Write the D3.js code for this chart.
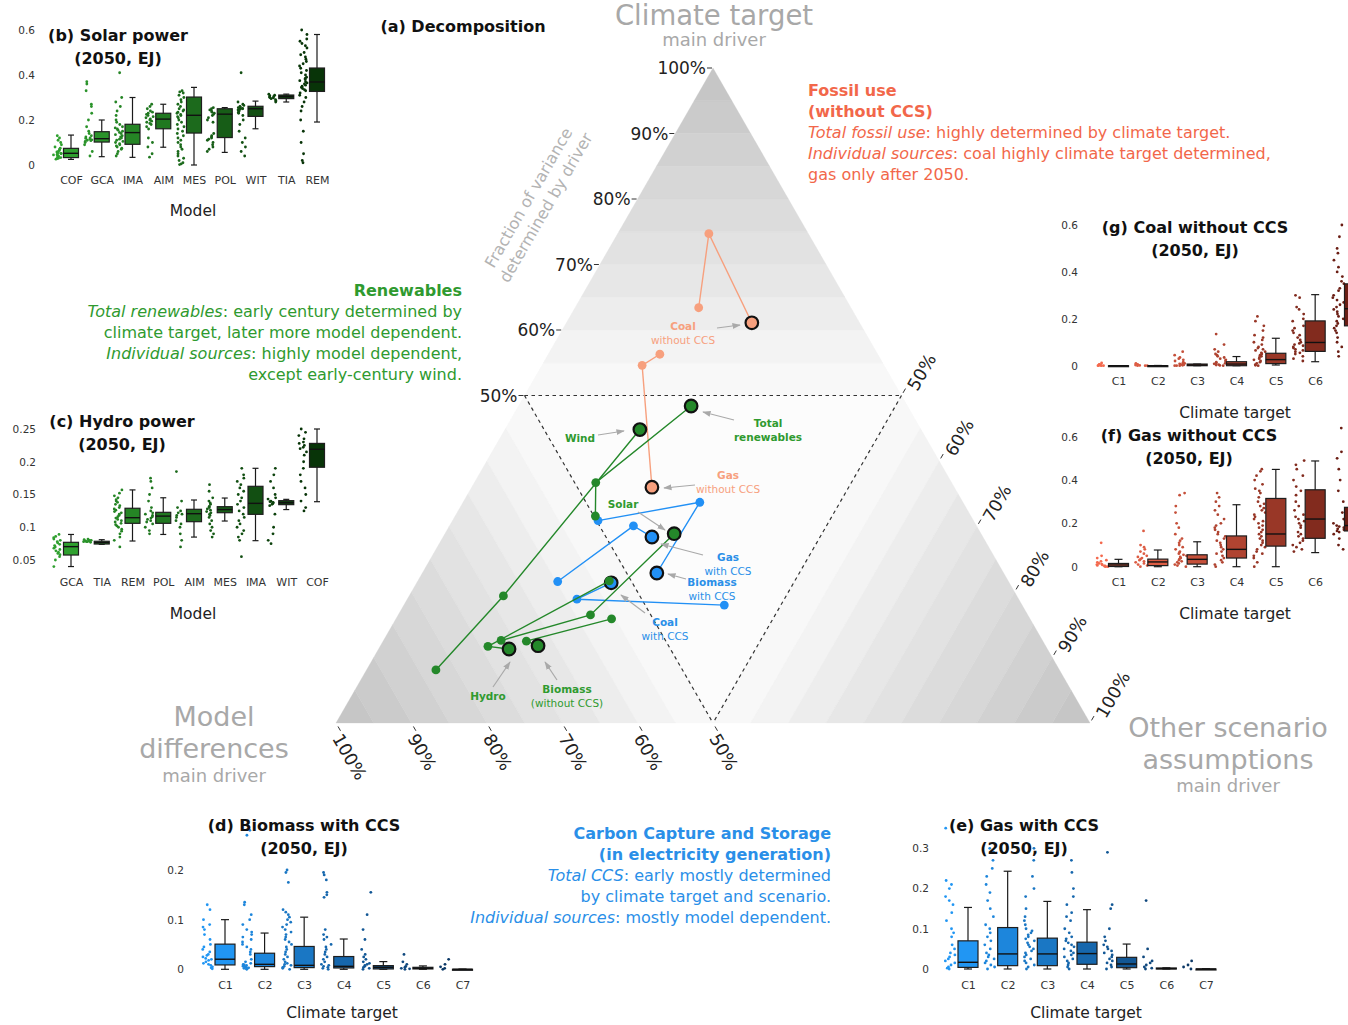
<!DOCTYPE html>
<html>
<head>
<meta charset="utf-8">
<script src="https://cdn.jsdelivr.net/npm/d3@7"></script>
<style>
  body { margin: 0; background: #fff; }
  svg { display: block; font-family: "DejaVu Sans", Verdana, sans-serif; }
</style>
</head>
<body>
<svg id="fig" width="1348" height="1025"></svg>
<script>
// ---------- Ternary decomposition: [climate target, model differences, other assumptions] ----------
const windPath        = [[0.081, 0.827, 0.092], [0.194, 0.681, 0.125], [0.448, 0.373, 0.179]];
const totalRenewPath  = [[0.316, 0.498, 0.186], [0.367, 0.472, 0.161], [0.484, 0.287, 0.229]];
const solarPath       = [[0.126, 0.718, 0.156], [0.165, 0.580, 0.255], [0.289, 0.407, 0.304]];
const hydroPath       = [[0.217, 0.529, 0.254], [0.117, 0.740, 0.143], [0.113, 0.714, 0.173]];
const biomassPath     = [[0.159, 0.555, 0.286], [0.125, 0.685, 0.190], [0.118, 0.673, 0.209]];
const bioCCSPath      = [[0.309, 0.498, 0.193], [0.337, 0.349, 0.314], [0.229, 0.460, 0.311]];
const gasCCSPath      = [[0.216, 0.598, 0.186], [0.301, 0.455, 0.244], [0.284, 0.439, 0.277]];
const coalCCSPath     = [[0.180, 0.395, 0.425], [0.189, 0.586, 0.225], [0.214, 0.528, 0.258]];
const coalPath        = [[0.634, 0.202, 0.164], [0.747, 0.132, 0.121], [0.611, 0.143, 0.246]];
const gasPath         = [[0.563, 0.289, 0.148], [0.546, 0.321, 0.133], [0.360, 0.401, 0.239]];
const ternaryTicks    = [0.5, 0.6, 0.7, 0.8, 0.9, 1.0];

// ---------- Box panels: [lower whisker, q1, median, q3, upper whisker] ----------
const solarModels = ["COF", "GCA", "IMA", "AIM", "MES", "POL", "WIT", "TIA", "REM"];
const solarStats = [
  [0.025, 0.033, 0.052, 0.074, 0.133], [0.037, 0.102, 0.117, 0.148, 0.200],
  [0.034, 0.092, 0.144, 0.181, 0.300], [0.079, 0.161, 0.204, 0.230, 0.270],
  [0.000, 0.142, 0.221, 0.302, 0.345], [0.056, 0.122, 0.226, 0.250, 0.255],
  [0.161, 0.216, 0.250, 0.261, 0.284], [0.280, 0.295, 0.304, 0.311, 0.315],
  [0.191, 0.327, 0.369, 0.431, 0.580]
];
const solarPoints = [
  [0.13,0.12,0.11,0.1,0.09,0.08,0.075,0.07,0.065,0.06,0.058,0.055,0.052,0.05,0.048,0.045,0.042,0.04,0.038,0.035,0.033,0.03,0.028,0.026],
  [0.37,0.36,0.33,0.27,0.26,0.23,0.2,0.17,0.15,0.14,0.13,0.125,0.12,0.118,0.115,0.112,0.11,0.108,0.105,0.1,0.09,0.06,0.04],
  [0.41,0.3,0.28,0.26,0.24,0.22,0.2,0.19,0.18,0.17,0.165,0.16,0.155,0.15,0.145,0.14,0.135,0.13,0.125,0.12,0.115,0.11,0.105,0.1,0.095,0.09,0.085,0.08,0.075,0.07,0.06,0.05,0.04],
  [0.27,0.26,0.25,0.24,0.235,0.23,0.225,0.22,0.215,0.21,0.205,0.2,0.195,0.19,0.185,0.18,0.17,0.16,0.12,0.1,0.08,0.05,0.035],
  [0.33,0.325,0.32,0.31,0.3,0.29,0.28,0.27,0.26,0.25,0.245,0.24,0.235,0.23,0.225,0.22,0.215,0.21,0.2,0.19,0.18,0.17,0.16,0.15,0.14,0.13,0.12,0.11,0.1,0.09,0.08,0.07,0.06,0.05,0.04,0.03,0.02,0.01,0.005,0.002],
  [0.255,0.25,0.245,0.24,0.235,0.23,0.225,0.22,0.21,0.2,0.19,0.14,0.13,0.125,0.12,0.115,0.11,0.1,0.09,0.08,0.07,0.06],
  [0.41,0.28,0.27,0.265,0.26,0.258,0.255,0.252,0.25,0.248,0.245,0.24,0.235,0.23,0.22,0.2,0.18,0.15,0.12,0.1,0.08,0.06,0.04],
  [0.315,0.31,0.308,0.305,0.302,0.3,0.298,0.295,0.29,0.285,0.28],
  [0.6,0.58,0.56,0.55,0.54,0.53,0.52,0.5,0.49,0.48,0.47,0.46,0.45,0.44,0.43,0.42,0.41,0.4,0.39,0.385,0.38,0.375,0.37,0.365,0.36,0.355,0.35,0.345,0.34,0.335,0.33,0.32,0.31,0.3,0.28,0.26,0.24,0.2,0.15,0.1,0.05,0.02,0.01]
];

const hydroModels = ["GCA", "TIA", "REM", "POL", "AIM", "MES", "IMA", "WIT", "COF"];
const hydroStats = [
  [0.040, 0.0576, 0.0704, 0.0770, 0.089], [0.0739, 0.0744, 0.0765, 0.0786, 0.081],
  [0.079, 0.106, 0.1146, 0.129, 0.157], [0.089, 0.106, 0.117, 0.1228, 0.145],
  [0.085, 0.1085, 0.1207, 0.1274, 0.1416], [0.1095, 0.1222, 0.127, 0.1314, 0.1446],
  [0.0795, 0.1197, 0.1365, 0.1625, 0.190], [0.127, 0.1345, 0.1375, 0.1406, 0.1426],
  [0.139, 0.1916, 0.219, 0.228, 0.250]
];
const hydroPoints = [
  [0.089,0.086,0.084,0.082,0.08,0.078,0.076,0.074,0.072,0.07,0.068,0.066,0.064,0.062,0.06,0.058,0.055,0.05,0.04],
  [0.082,0.081,0.08,0.08,0.079,0.079,0.078,0.078,0.078,0.077],
  [0.157,0.152,0.148,0.145,0.142,0.14,0.138,0.135,0.133,0.13,0.128,0.126,0.124,0.122,0.12,0.118,0.116,0.114,0.112,0.11,0.108,0.106,0.104,0.102,0.1,0.097,0.094,0.09,0.085,0.08,0.07],
  [0.175,0.17,0.16,0.15,0.14,0.13,0.125,0.122,0.12,0.118,0.116,0.114,0.112,0.11,0.108,0.105,0.1,0.095,0.09],
  [0.185,0.14,0.13,0.125,0.122,0.12,0.118,0.115,0.11,0.105,0.1,0.09,0.08,0.07],
  [0.165,0.155,0.145,0.14,0.137,0.135,0.132,0.13,0.128,0.126,0.124,0.122,0.12,0.118,0.115,0.11,0.105,0.1,0.095,0.09,0.085],
  [0.19,0.18,0.175,0.17,0.165,0.16,0.155,0.15,0.145,0.14,0.135,0.13,0.125,0.12,0.115,0.11,0.105,0.1,0.095,0.09,0.085,0.08,0.055],
  [0.19,0.18,0.17,0.16,0.15,0.145,0.143,0.14,0.139,0.138,0.137,0.136,0.135,0.133,0.12,0.1,0.09,0.08,0.075],
  [0.25,0.245,0.24,0.235,0.23,0.228,0.225,0.222,0.22,0.215,0.21,0.2,0.19,0.18,0.17,0.16,0.15,0.14,0.13,0.125]
];

const climateCats = ["C1", "C2", "C3", "C4", "C5", "C6", "C7"];

const coalStats = [
  [0, 0, 0, 0, 0], [0, 0, 0, 0, 0.001], [0, 0, 0.003, 0.007, 0.007], [0, 0, 0.007, 0.017, 0.039],
  [0.003, 0.009, 0.026, 0.053, 0.117], [0.017, 0.061, 0.099, 0.191, 0.303], [0.04, 0.17, 0.243, 0.349, 0.6]
];
const coalPoints = [
  [0.012,0.006,0.004,0.002,0.001,0,0,0],
  [0.01,0.006,0.003,0.001,0,0,0],
  [0.06,0.045,0.035,0.03,0.025,0.02,0.015,0.012,0.01,0.008,0.006,0.004,0.002,0,0,0],
  [0.135,0.09,0.07,0.06,0.05,0.045,0.04,0.035,0.03,0.025,0.02,0.015,0.012,0.01,0.008,0.005,0.003,0.001,0],
  [0.21,0.19,0.17,0.15,0.13,0.12,0.11,0.1,0.09,0.08,0.075,0.07,0.065,0.06,0.055,0.05,0.045,0.04,0.035,0.03,0.025,0.02,0.015,0.01,0.005,0.002,0],
  [0.3,0.29,0.25,0.24,0.22,0.2,0.19,0.17,0.16,0.15,0.14,0.13,0.12,0.11,0.1,0.095,0.09,0.085,0.08,0.075,0.07,0.065,0.06,0.055,0.05,0.04,0.03,0.02],
  [0.6,0.55,0.5,0.48,0.45,0.42,0.4,0.38,0.36,0.35,0.33,0.32,0.3,0.29,0.28,0.27,0.26,0.25,0.24,0.23,0.22,0.21,0.2,0.19,0.18,0.17,0.16,0.15,0.14,0.12,0.1,0.08,0.06,0.04]
];

const gasStats = [
  [0, 0.001, 0.008, 0.015, 0.034], [0, 0.005, 0.022, 0.035, 0.077], [0, 0.012, 0.034, 0.055, 0.115],
  [0, 0.04, 0.08, 0.142, 0.286], [0, 0.095, 0.151, 0.315, 0.449], [0.065, 0.131, 0.22, 0.355, 0.488],
  [0.08, 0.165, 0.19, 0.274, 0.5]
];
const gasPoints = [
  [0.11,0.05,0.04,0.03,0.025,0.02,0.015,0.012,0.01,0.008,0.006,0.004,0.002,0,0],
  [0.165,0.1,0.09,0.08,0.07,0.06,0.05,0.045,0.04,0.035,0.03,0.025,0.02,0.015,0.01,0.005,0],
  [0.34,0.33,0.28,0.25,0.2,0.18,0.15,0.13,0.12,0.11,0.1,0.09,0.08,0.07,0.065,0.06,0.055,0.05,0.045,0.04,0.035,0.03,0.025,0.02,0.015,0.01,0.005,0],
  [0.34,0.32,0.3,0.28,0.26,0.24,0.22,0.2,0.19,0.18,0.17,0.16,0.15,0.14,0.13,0.12,0.11,0.1,0.09,0.08,0.07,0.06,0.05,0.04,0.03,0.02,0.01,0],
  [0.45,0.44,0.42,0.4,0.38,0.36,0.35,0.34,0.32,0.3,0.29,0.28,0.27,0.26,0.25,0.24,0.23,0.22,0.21,0.2,0.19,0.18,0.17,0.16,0.15,0.14,0.13,0.12,0.11,0.1,0.09,0.08,0.07,0.06,0.05,0.04,0.02,0],
  [0.49,0.47,0.45,0.42,0.4,0.37,0.35,0.33,0.3,0.28,0.26,0.24,0.23,0.22,0.21,0.2,0.19,0.18,0.16,0.15,0.14,0.13,0.12,0.11,0.1,0.09,0.08,0.07],
  [0.64,0.53,0.5,0.45,0.4,0.35,0.3,0.25,0.22,0.2,0.19,0.185,0.18,0.175,0.17,0.165,0.16,0.15,0.13,0.1,0.08]
];

const bioCCSStats = [
  [0, 0.0088, 0.0203, 0.0507, 0.1], [0, 0.0054, 0.01, 0.0324, 0.073], [0, 0.0034, 0.008, 0.046, 0.105],
  [0, 0.0027, 0.006, 0.0257, 0.061], [0, 0.0007, 0.004, 0.0074, 0.0155], [0, 0.0007, 0.002, 0.004, 0.0068],
  [0, 0, 0, 0, 0]
];
const bioCCSPoints = [
  [0.13,0.12,0.1,0.09,0.085,0.08,0.07,0.06,0.05,0.045,0.04,0.035,0.03,0.028,0.025,0.022,0.02,0.018,0.015,0.012,0.01,0.008,0.005,0.003,0.001],
  [0.28,0.27,0.135,0.13,0.11,0.1,0.09,0.08,0.075,0.07,0.065,0.06,0.055,0.05,0.045,0.04,0.035,0.03,0.02,0.015,0.012,0.01,0.009,0.008,0.007,0.006,0.005,0.004,0.003,0.002,0.001,0],
  [0.2,0.195,0.175,0.12,0.115,0.11,0.105,0.1,0.095,0.09,0.085,0.08,0.075,0.07,0.065,0.06,0.055,0.05,0.045,0.04,0.035,0.03,0.025,0.02,0.015,0.012,0.01,0.008,0.006,0.004,0.002,0],
  [0.195,0.19,0.18,0.155,0.15,0.145,0.08,0.07,0.065,0.06,0.05,0.045,0.04,0.035,0.03,0.025,0.02,0.015,0.01,0.008,0.006,0.004,0.002,0],
  [0.155,0.11,0.08,0.06,0.04,0.03,0.025,0.02,0.015,0.012,0.01,0.008,0.006,0.004,0.002,0],
  [0.03,0.015,0.01,0.006,0.004,0.002,0.001,0],
  [0.02,0.01,0.005,0.002,0]
];

const gasCCSStats = [
  [0, 0.004, 0.0167, 0.07, 0.153], [0, 0.0083, 0.0375, 0.103, 0.243], [0, 0.0083, 0.0375, 0.0767, 0.168],
  [0, 0.0117, 0.0383, 0.0667, 0.1475], [0, 0.0033, 0.0125, 0.029, 0.062], [0, 0, 0.001, 0.0025, 0.003],
  [0, 0, 0, 0, 0]
];
const gasCCSPoints = [
  [0.35,0.22,0.21,0.2,0.18,0.17,0.16,0.14,0.12,0.1,0.09,0.08,0.06,0.05,0.04,0.035,0.03,0.025,0.02,0.015,0.01,0.005,0.002,0],
  [0.3,0.29,0.27,0.25,0.23,0.21,0.19,0.17,0.15,0.13,0.11,0.1,0.09,0.08,0.07,0.06,0.05,0.04,0.035,0.03,0.025,0.02,0.015,0.01,0.005,0],
  [0.3,0.27,0.23,0.2,0.18,0.15,0.13,0.12,0.11,0.1,0.095,0.09,0.085,0.08,0.075,0.07,0.065,0.06,0.055,0.05,0.045,0.04,0.035,0.03,0.025,0.02,0.015,0.01,0.005,0],
  [0.27,0.24,0.2,0.18,0.16,0.14,0.13,0.12,0.1,0.09,0.08,0.075,0.07,0.065,0.06,0.055,0.05,0.045,0.04,0.035,0.03,0.025,0.02,0.015,0.01,0.005,0],
  [0.29,0.16,0.15,0.1,0.08,0.07,0.06,0.055,0.05,0.045,0.04,0.035,0.03,0.025,0.02,0.015,0.01,0.005,0],
  [0.17,0.05,0.03,0.02,0.015,0.01,0.005,0.002,0],
  [0.02,0.01,0.005,0]
];

// ---------- palette ----------
const GREEN = "#24882a", BLUE = "#2290f5", ORANGE = "#f7a07e";
const TXT_GREEN = "#2f9a2f", TXT_RED = "#f2674a", TXT_BLUE = "#2a8fe8";
const LABEL_GRAY = "#a8a8a8", ARROW_GRAY = "#a9a9a9";
const greens = d3.quantize(d3.interpolateRgb("#2fa02f", "#083408"), 9);
const reds = d3.quantize(d3.interpolateRgb("#f4694d", "#6b1e14"), 7);
const blues = d3.quantize(d3.interpolateRgb("#2196f3", "#0b3866"), 7);

const W = 1348;
const svg = d3.select("#fig");
const defs = svg.append("defs");
defs.append("marker").attr("id", "arrowhead").attr("viewBox", "0 0 10 10")
  .attr("refX", 9).attr("refY", 5).attr("markerWidth", 7).attr("markerHeight", 7)
  .attr("orient", "auto")
  .append("path").attr("d", "M0,1.5L10,5L0,8.5Z").attr("fill", ARROW_GRAY);

// ---------- ternary plot ----------
const tx = d3.scaleLinear().domain([0, 1]).range([336, 1090]);
const ty = d3.scaleLinear().domain([0, 1]).range([723, 68]);
function proj(p) {
  const s = p[0] + p[1] + p[2];
  const a = p[0] / s, c = p[2] / s;
  return [tx(c + a / 2), ty(a)];
}
const lineGen = d3.line();
const tern = svg.append("g");

tern.append("path")
  .attr("d", lineGen([[1, 0, 0], [0, 1, 0], [0, 0, 1]].map(proj)) + "Z")
  .attr("fill", "#fcfcfc");

// shaded bands: one component above one half, darker towards its vertex
const shade = d3.scaleLinear().domain([0.5, 1]).range(["#fbfbfb", "#c3c3c3"]);
const bandStarts = d3.range(10).map(i => 0.5 + i * 0.05);
[0, 1, 2].forEach(k => {
  bandStarts.forEach(t => {
    const t2 = t + 0.05;
    const at = (v, side) => { const p = [0, 0, 0]; p[k] = v; p[(k + (side ? 2 : 1)) % 3] = 1 - v; return p; };
    tern.append("path")
      .attr("d", lineGen([at(t, 0), at(t, 1), at(t2, 1), at(t2, 0)].map(proj)) + "Z")
      .attr("fill", shade(t + 0.025))
      .attr("stroke", shade(t + 0.025)).attr("stroke-width", 0.3);
  });
});

// dashed inner triangle (no driver above one half)
const mid = [[0.5, 0.5, 0], [0.5, 0, 0.5], [0, 0.5, 0.5]];
[[0, 1], [0, 2], [1, 2]].forEach(([i, j]) => {
  tern.append("path").attr("d", lineGen([mid[i], mid[j]].map(proj)))
    .attr("stroke", "#333").attr("stroke-width", 1.2).attr("stroke-dasharray", "3.5,3.5").attr("fill", "none");
});

// axis ticks and labels
const pct = d3.format(".0%");
const tickFont = 17;
ternaryTicks.forEach(t => {
  // climate target: left edge, horizontal ticks
  let [x, y] = proj([t, 1 - t, 0]);
  tern.append("line").attr("x1", x - 6).attr("x2", x - 1).attr("y1", y).attr("y2", y).attr("stroke", "#333");
  tern.append("text").attr("x", x - 7).attr("y", y + 6).attr("text-anchor", "end")
    .attr("font-size", tickFont).attr("fill", "#222").text(pct(t));

  // model differences: bottom edge, ticks parallel to right edge
  [x, y] = proj([0, t, 1 - t]);
  const dx = 0.5, dy = Math.sqrt(3) / 2;
  tern.append("line").attr("x1", x + dx * 4).attr("y1", y + dy * 4).attr("x2", x + dx * 9).attr("y2", y + dy * 9).attr("stroke", "#333");
  tern.append("text").attr("transform", `translate(${x + dx * 14 - 6},${y + dy * 14})rotate(60)`)
    .attr("font-size", 17.5).attr("fill", "#222").attr("dy", "0.35em").text(pct(t));

  // other scenario assumptions: right edge, ticks parallel to left edge
  [x, y] = proj([1 - t, 0, t]);
  tern.append("line").attr("x1", x + dx * 3).attr("y1", y - dy * 3).attr("x2", x + dx * 8).attr("y2", y - dy * 8).attr("stroke", "#333");
  tern.append("text").attr("transform", `translate(${x + dx * 11 + 5},${y - dy * 11 + 3})rotate(-60)`)
    .attr("font-size", 17.5).attr("fill", "#222").attr("dy", "0.35em").text(pct(t));
});

// series trajectories
const series = [
  { pts: bioCCSPath, color: BLUE }, { pts: gasCCSPath, color: BLUE }, { pts: coalCCSPath, color: BLUE },
  { pts: coalPath, color: ORANGE }, { pts: gasPath, color: ORANGE },
  { pts: windPath, color: GREEN }, { pts: totalRenewPath, color: GREEN }, { pts: solarPath, color: GREEN },
  { pts: hydroPath, color: GREEN }, { pts: biomassPath, color: GREEN }
];
const marks = tern.append("g");
series.forEach(s => {
  const xy = s.pts.map(proj);
  marks.append("path").attr("d", lineGen(xy)).attr("fill", "none").attr("stroke", s.color).attr("stroke-width", 1.4);
  xy.slice(0, -1).forEach(p => marks.append("circle").attr("cx", p[0]).attr("cy", p[1]).attr("r", 4.4).attr("fill", s.color));
  const last = xy[xy.length - 1];
  marks.append("circle").attr("cx", last[0]).attr("cy", last[1]).attr("r", 6.3)
    .attr("fill", s.color).attr("stroke", "#111").attr("stroke-width", 2.2);
});

// series annotations
const annotations = [
  { l1: "Wind", l2: null, c: TXT_GREEN, x: 580, y: 438, a: [598, 435, 624, 431] },
  { l1: "Total", l2: "renewables", c: TXT_GREEN, x: 768, y: 423, a: [734, 420, 703, 412], bold2: true },
  { l1: "Gas", l2: "without CCS", c: ORANGE, x: 728, y: 475, a: [695, 485, 664, 488] },
  { l1: "Solar", l2: null, c: TXT_GREEN, x: 623, y: 504, a: [638, 512, 665, 530] },
  { l1: "Gas", l2: "with CCS", c: TXT_BLUE, x: 728, y: 557, a: [703, 555, 661, 544] },
  { l1: "Biomass", l2: "with CCS", c: TXT_BLUE, x: 712, y: 582, a: [686, 579, 668, 574] },
  { l1: "Coal", l2: "with CCS", c: TXT_BLUE, x: 665, y: 622, a: [645, 613, 621, 595] },
  { l1: "Hydro", l2: null, c: TXT_GREEN, x: 488, y: 696, a: [493, 687, 510, 662] },
  { l1: "Biomass", l2: "(without CCS)", c: TXT_GREEN, x: 567, y: 689, a: [557, 680, 545, 662] },
  { l1: "Coal", l2: "without CCS", c: ORANGE, x: 683, y: 326, a: [717, 328, 740, 325] }
];
annotations.forEach(d => {
  tern.append("line").attr("x1", d.a[0]).attr("y1", d.a[1]).attr("x2", d.a[2]).attr("y2", d.a[3])
    .attr("stroke", ARROW_GRAY).attr("stroke-width", 1.2).attr("marker-end", "url(#arrowhead)");
  tern.append("text").attr("x", d.x).attr("y", d.y + 4).attr("text-anchor", "middle")
    .attr("font-size", 10.5).attr("font-weight", "bold").attr("fill", d.c).text(d.l1);
  if (d.l2) tern.append("text").attr("x", d.x).attr("y", d.y + 17.5).attr("text-anchor", "middle")
    .attr("font-size", 10.5).attr("font-weight", d.bold2 ? "bold" : "normal").attr("fill", d.c).text(d.l2);
});

// corner driver labels
function cornerLabel(lines, x) {
  lines.forEach(([t, y, size]) => {
    svg.append("text").attr("x", x).attr("y", y).attr("text-anchor", "middle")
      .attr("font-size", size).attr("fill", LABEL_GRAY).text(t);
  });
}
cornerLabel([["Climate target", 25, 27.5], ["main driver", 46, 18]], 714);
cornerLabel([["Model", 726, 27], ["differences", 758, 27], ["main driver", 782, 18]], 214);
cornerLabel([["Other scenario", 737, 27], ["assumptions", 769, 27], ["main driver", 792, 18]], 1228);

// axis description
const fracG = svg.append("g").attr("transform", "translate(529,198) rotate(-60)");
fracG.append("text").attr("text-anchor", "middle").attr("y", 5).attr("font-size", 16).attr("fill", "#b3b3b3").text("Fraction of variance");
fracG.append("text").attr("text-anchor", "middle").attr("y", 25).attr("font-size", 16).attr("fill", "#b3b3b3").text("determined by driver");

svg.append("text").attr("x", 463).attr("y", 32).attr("text-anchor", "middle").attr("font-size", 16)
  .attr("font-weight", "bold").attr("fill", "#111").text("(a) Decomposition");

// ---------- text blocks ----------
function textBlock(lines, x, y0, anchor, color) {
  lines.forEach((segs, i) => {
    const t = svg.append("text").attr("x", x).attr("y", y0 + i * 21).attr("text-anchor", anchor)
      .attr("font-size", 16).attr("fill", color);
    segs.forEach(([s, st]) => {
      const ts = t.append("tspan").text(s);
      if (st === "b") ts.attr("font-weight", "bold");
      if (st === "i") ts.attr("font-style", "italic");
    });
  });
}
textBlock([
  [["Renewables", "b"]],
  [["Total renewables", "i"], [": early century determined by", ""]],
  [["climate target, later more model dependent.", ""]],
  [["Individual sources", "i"], [": highly model dependent,", ""]],
  [["except early-century wind.", ""]]
], 462, 296, "end", TXT_GREEN);
textBlock([
  [["Fossil use", "b"]],
  [["(without CCS)", "b"]],
  [["Total fossil use", "i"], [": highly determined by climate target.", ""]],
  [["Individual sources", "i"], [": coal highly climate target determined,", ""]],
  [["gas only after 2050.", ""]]
], 808, 96, "start", TXT_RED);
textBlock([
  [["Carbon Capture and Storage", "b"]],
  [["(in electricity generation)", "b"]],
  [["Total CCS", "i"], [": early mostly determined", ""]],
  [["by climate target and scenario.", ""]],
  [["Individual sources", "i"], [": mostly model dependent.", ""]]
], 831, 839, "end", TXT_BLUE);

// ---------- box panels ----------
const fmtTick = d => String(+d.toFixed(2));
// deterministic horizontal spread for the strip dots (layout only)
const spread = (j, v) => { const s = Math.sin(j * 12.9898 + v * 78.233) * 43758.5453; return s - Math.floor(s) - 0.5; };
function boxPanel(o) {
  const g = svg.append("g");
  const x = d3.scalePoint().domain(o.cats).range(o.xRange);
  const y = d3.scaleLinear().domain(o.yDomain).range(o.yRange);

  const ya = g.append("g").attr("transform", `translate(${o.tickX},0)`)
    .call(d3.axisLeft(y).tickValues(o.yTicks).tickFormat(fmtTick).tickSize(0).tickPadding(0));
  ya.select(".domain").remove();
  ya.selectAll("text").attr("font-size", 10.5).attr("fill", "#333").attr("font-family", "DejaVu Sans, sans-serif");

  // category labels that fall inside the canvas
  const shown = o.cats.filter(c => x(c) < W - 12);
  const xa = g.append("g").attr("transform", `translate(0,${o.labelTop})`)
    .call(d3.axisBottom(x).tickValues(shown).tickSize(0).tickPadding(0));
  xa.select(".domain").remove();
  xa.selectAll("text").attr("font-size", 11).attr("fill", "#333").attr("font-family", "DejaVu Sans, sans-serif");

  o.cats.forEach((c, i) => {
    const cx = x(c), col = o.colors[i];
    const [lo, q1, md, q3, hi] = o.stats[i];
    // strip of individual scenarios, left of the box
    o.points[i].forEach((v, j) => {
      g.append("circle").attr("cx", cx - o.stripOff + spread(j + i * 7, v) * o.stripW)
        .attr("cy", y(v)).attr("r", 1.4).attr("fill", col);
    });
    const w = o.boxW;
    g.append("line").attr("x1", cx).attr("x2", cx).attr("y1", y(hi)).attr("y2", y(lo)).attr("stroke", "#1a1a1a").attr("stroke-width", 1.2);
    [lo, hi].forEach(v => g.append("line").attr("x1", cx - w * 0.2).attr("x2", cx + w * 0.2)
      .attr("y1", y(v)).attr("y2", y(v)).attr("stroke", "#1a1a1a").attr("stroke-width", 1.2));
    g.append("rect").attr("x", cx - w / 2).attr("width", w).attr("y", y(q3))
      .attr("height", Math.max(y(q1) - y(q3), 1)).attr("fill", col).attr("stroke", "#1e1e1e").attr("stroke-width", 1.2);
    g.append("line").attr("x1", cx - w / 2).attr("x2", cx + w / 2).attr("y1", y(md)).attr("y2", y(md)).attr("stroke", "#111").attr("stroke-width", 1.4);
  });

  o.title.forEach((t, i) => g.append("text").attr("x", o.titleX).attr("y", o.titleY + i * 23)
    .attr("text-anchor", "middle").attr("font-size", 16).attr("font-weight", "bold").attr("fill", "#111").text(t));
  g.append("text").attr("x", o.xTitleX).attr("y", o.xTitleY).attr("text-anchor", "middle")
    .attr("font-size", 15.5).attr("fill", "#222").text(o.xTitle);
}

boxPanel({ cats: solarModels, stats: solarStats, points: solarPoints, colors: greens,
  xRange: [71, 317], yDomain: [0, 0.6], yRange: [165, 30], yTicks: [0, 0.2, 0.4, 0.6], tickX: 35,
  labelTop: 176, boxW: 15, stripOff: 13.5, stripW: 8,
  title: ["(b) Solar power", "(2050, EJ)"], titleX: 118, titleY: 41,
  xTitle: "Model", xTitleX: 193, xTitleY: 216 });

boxPanel({ cats: hydroModels, stats: hydroStats, points: hydroPoints, colors: greens,
  xRange: [71, 317], yDomain: [0.05, 0.25], yRange: [560, 429], yTicks: [0.05, 0.1, 0.15, 0.2, 0.25], tickX: 36,
  labelTop: 578, boxW: 15, stripOff: 14.5, stripW: 8,
  title: ["(c) Hydro power", "(2050, EJ)"], titleX: 122, titleY: 427,
  xTitle: "Model", xTitleX: 193, xTitleY: 619 });

boxPanel({ cats: climateCats, stats: coalStats, points: coalPoints, colors: reds,
  xRange: [1118.5, 1354.5], yDomain: [0, 0.6], yRange: [365.7, 225], yTicks: [0, 0.2, 0.4, 0.6], tickX: 1078,
  labelTop: 377, boxW: 20, stripOff: 16.5, stripW: 12,
  title: ["(g) Coal without CCS", "(2050, EJ)"], titleX: 1195, titleY: 233,
  xTitle: "Climate target", xTitleX: 1235, xTitleY: 418 });

boxPanel({ cats: climateCats, stats: gasStats, points: gasPoints, colors: reds,
  xRange: [1118.5, 1354.5], yDomain: [0, 0.6], yRange: [566.7, 436.7], yTicks: [0, 0.2, 0.4, 0.6], tickX: 1078,
  labelTop: 578, boxW: 20, stripOff: 16.5, stripW: 12,
  title: ["(f) Gas without CCS", "(2050, EJ)"], titleX: 1189, titleY: 441,
  xTitle: "Climate target", xTitleX: 1235, xTitleY: 619 });

boxPanel({ cats: climateCats, stats: bioCCSStats, points: bioCCSPoints, colors: blues,
  xRange: [225, 462.5], yDomain: [0, 0.2], yRange: [969.3, 870], yTicks: [0, 0.1, 0.2], tickX: 184,
  labelTop: 981, boxW: 20, stripOff: 17.5, stripW: 10,
  title: ["(d) Biomass with CCS", "(2050, EJ)"], titleX: 304, titleY: 831,
  xTitle: "Climate target", xTitleX: 342, xTitleY: 1018 });

boxPanel({ cats: climateCats, stats: gasCCSStats, points: gasCCSPoints, colors: blues,
  xRange: [968, 1206], yDomain: [0, 0.3], yRange: [969, 848.3], yTicks: [0, 0.1, 0.2, 0.3], tickX: 929,
  labelTop: 981, boxW: 20, stripOff: 18, stripW: 10,
  title: ["(e) Gas with CCS", "(2050, EJ)"], titleX: 1024, titleY: 831,
  xTitle: "Climate target", xTitleX: 1086, xTitleY: 1018 });
</script>
</body>
</html>
